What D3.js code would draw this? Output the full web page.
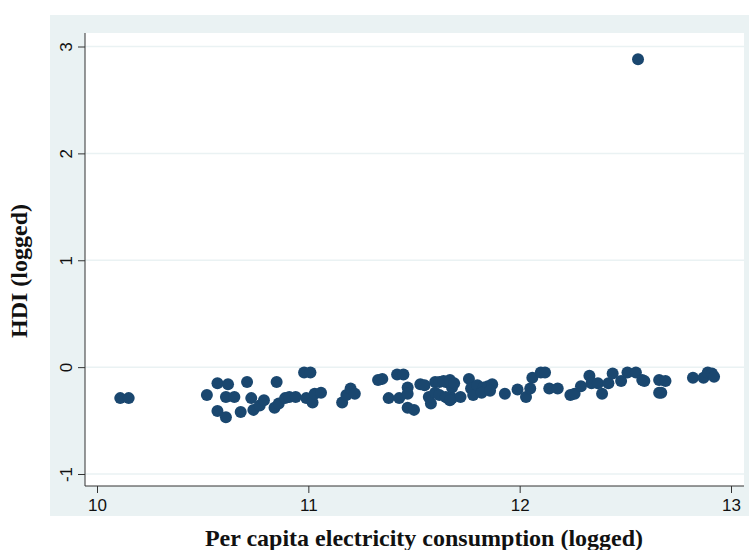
<!doctype html>
<html>
<head>
<meta charset="UTF-8">
<title>HDI vs electricity consumption</title>
<style>
  body { margin: 0; background: #fff; }
  svg { display: block; }
</style>
</head>
<body>
<div id="chart"></div>
<script src="https://d3js.org/d3.v7.min.js"></script>
<script>
// per capita electricity consumption (logged)
var elec = [10.11, 10.15, 10.52, 10.57, 10.62, 10.71, 10.61, 10.65, 10.73, 10.57,
            10.61, 10.68, 10.74, 10.77, 10.79, 10.85, 10.84, 10.86, 10.89, 10.91,
            10.94, 10.98, 11.01, 10.99, 11.02, 11.03, 11.06, 11.16, 11.18, 11.20,
            11.22, 11.35, 11.33, 11.42, 11.45, 11.38, 11.47, 11.43, 11.47, 11.47,
            11.50, 11.53, 11.55, 11.58, 11.57, 11.60, 11.62, 11.65, 11.67, 11.68,
            11.60, 11.62, 11.66, 11.68, 11.72, 11.64, 11.67, 11.69, 11.65, 11.67,
            11.76, 11.77, 11.78, 11.80, 11.83, 11.85, 11.87, 11.82, 11.86, 11.93,
            11.99, 12.03, 12.05, 12.06, 12.10, 12.12, 12.14, 12.18, 12.24, 12.26,
            12.29, 12.33, 12.34, 12.37, 12.39, 12.42, 12.44, 12.48, 12.51, 12.55,
            12.58, 12.59, 12.66, 12.69, 12.66, 12.67, 12.82, 12.87, 12.89, 12.91,
            12.92, 12.56];
// HDI (logged)
var hdi = [-0.29, -0.29, -0.26, -0.15, -0.16, -0.14, -0.28, -0.28, -0.29, -0.41,
           -0.47, -0.42, -0.40, -0.36, -0.31, -0.14, -0.38, -0.34, -0.29, -0.28,
           -0.28, -0.05, -0.05, -0.29, -0.33, -0.25, -0.24, -0.33, -0.26, -0.20,
           -0.25, -0.11, -0.12, -0.07, -0.07, -0.29, -0.19, -0.29, -0.25, -0.38,
           -0.40, -0.16, -0.17, -0.34, -0.28, -0.14, -0.14, -0.14, -0.15, -0.19,
           -0.24, -0.26, -0.29, -0.29, -0.28, -0.13, -0.12, -0.15, -0.28, -0.31,
           -0.11, -0.20, -0.26, -0.17, -0.19, -0.18, -0.16, -0.24, -0.22, -0.25,
           -0.21, -0.28, -0.20, -0.10, -0.05, -0.05, -0.20, -0.20, -0.26, -0.25,
           -0.18, -0.08, -0.15, -0.15, -0.25, -0.15, -0.06, -0.13, -0.05, -0.05,
           -0.12, -0.13, -0.12, -0.13, -0.24, -0.24, -0.10, -0.10, -0.05, -0.06,
           -0.09, 2.88];
var xTicks = [10, 11, 12, 13];
var yTicks = [-1, 0, 1, 2, 3];

var W = 749, H = 550;
var plot = {left: 85, right: 744, top: 33, bottom: 486};

var svg = d3.select("#chart").append("svg")
  .attr("width", W).attr("height", H);

// outer graph region
svg.append("rect")
  .attr("x", 50).attr("y", 15)
  .attr("width", W - 50).attr("height", 501)
  .attr("fill", "#eaf2f3");

svg.append("rect")
  .attr("x", plot.left).attr("y", plot.top)
  .attr("width", plot.right - plot.left).attr("height", plot.bottom - plot.top)
  .attr("fill", "#fff");

var x = d3.scaleLinear().domain([10, 13]).range([97, 731]);
var y = d3.scaleLinear().domain([-1, 3]).range([474, 46.5]);

// grid
svg.append("g").selectAll("line")
  .data(yTicks)
  .join("line")
    .attr("x1", plot.left).attr("x2", plot.right)
    .attr("y1", function(d) { return y(d); })
    .attr("y2", function(d) { return y(d); })
    .attr("stroke", "#eaf2f3")
    .attr("stroke-width", 1.5);

// plain hyphen for negatives, like the original
var fmt = function(d) { return String(d); };

// axes
var xAxis = svg.append("g")
  .attr("transform", "translate(0," + plot.bottom + ")")
  .call(d3.axisBottom(x).tickValues(xTicks).tickFormat(fmt)
    .tickSize(7).tickPadding(6).tickSizeOuter(0));
xAxis.select(".domain").attr("d", "M" + plot.left + ",0H" + plot.right);

var yAxis = svg.append("g")
  .attr("transform", "translate(" + plot.left + ",0)")
  .call(d3.axisLeft(y).tickValues(yTicks).tickFormat(fmt)
    .tickSize(7).tickSizeOuter(0));
yAxis.select(".domain").attr("d", "M0," + plot.top + "V" + plot.bottom);

svg.selectAll(".domain, .tick line").attr("stroke", "#333").attr("stroke-width", 1);
svg.selectAll(".tick text")
  .attr("font-family", "Liberation Sans, Arial, sans-serif")
  .attr("font-size", 17)
  .attr("fill", "#111");
// vertical y labels
yAxis.selectAll(".tick text")
  .attr("x", null).attr("y", null).attr("dy", "0.35em")
  .attr("text-anchor", "middle")
  .attr("transform", "translate(-19,0) rotate(-90)");

// points
svg.append("g").selectAll("circle")
  .data(elec)
  .join("circle")
    .attr("cx", function(d) { return x(d); })
    .attr("cy", function(d, i) { return y(hdi[i]); })
    .attr("r", 6)
    .attr("fill", "#1a476f");

// titles
svg.append("text")
  .attr("x", 424).attr("y", 546)
  .attr("text-anchor", "middle")
  .attr("font-family", "Liberation Serif, Times New Roman, serif")
  .attr("font-weight", "bold")
  .attr("font-size", 24)
  .attr("fill", "#111")
  .text("Per capita electricity consumption (logged)");

svg.append("text")
  .attr("transform", "translate(27,271) rotate(-90)")
  .attr("text-anchor", "middle")
  .attr("font-family", "Liberation Serif, Times New Roman, serif")
  .attr("font-weight", "bold")
  .attr("font-size", 24)
  .attr("fill", "#111")
  .text("HDI (logged)");
</script>
</body>
</html>
